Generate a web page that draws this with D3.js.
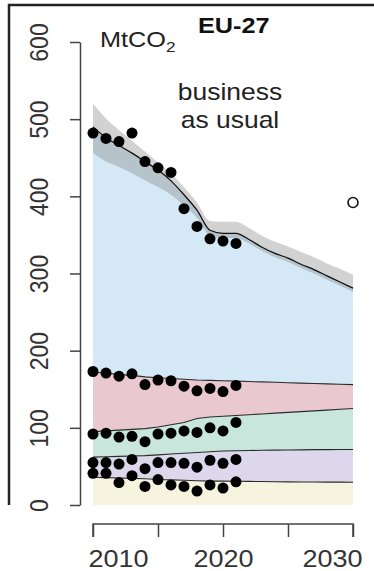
<!DOCTYPE html>
<html>
<head>
<meta charset="utf-8">
<script src="https://cdn.jsdelivr.net/npm/d3@7"></script>
<style>
  html, body { margin: 0; padding: 0; background: #fff; }
  svg { display: block; font-family: "Liberation Sans", Arial, sans-serif; }
</style>
</head>
<body>
<div id="chart"></div>
<script>
// projection years
const years = [2010, 2011, 2012, 2013, 2014, 2015, 2016, 2017, 2018, 2019, 2020,
  2021, 2022, 2023, 2024, 2025, 2026, 2027, 2028, 2029, 2030];

// business-as-usual projection by sector (MtCO2), stacked bottom to top
const sectorYellow = [36, 35.5, 35, 34.5, 34, 33, 32.5, 32, 31.5, 31, 31, 30.8, 30.6, 30.4, 30.2, 30, 29.9, 29.8, 29.7, 29.6, 29.5];
const sectorPurple = [26, 27, 28, 29, 30, 32, 33.5, 35, 36.5, 38, 39, 39.5, 40, 40.5, 40.9, 41.3, 41.6, 41.9, 42.1, 42.3, 42.5];
const sectorGreen = [33, 33.5, 34, 34.5, 35, 36, 38, 40, 44, 45, 45, 45.7, 46.4, 47.1, 47.9, 48.7, 49.5, 50.3, 51.2, 52.1, 53];
const sectorPink = [77, 75, 72, 70, 67, 64, 60, 56, 50, 47.5, 46, 44.5, 43, 41.5, 40, 38.5, 37, 35.5, 34, 32.5, 31];
const sectorBlue = [318, 305, 297, 288, 279, 269, 256, 239, 220, 194.5, 191, 191.5, 184, 174.5, 167, 161.5, 154, 147.5, 140, 132.5, 125];

// uncertainty band around the total
const bandUpper = [520, 501, 486, 472, 458, 444, 430, 412, 392, 368, 367, 367, 359, 349, 341, 335, 328, 321, 313, 306, 298];
const bandLower = [456, 445, 438, 430, 421, 412, 402, 388, 372, 349, 346, 346, 339, 329, 321, 315, 307, 300, 292, 284, 276];

// observed values (cumulative levels)
const obsYears = [2010, 2011, 2012, 2013, 2014, 2015, 2016, 2017, 2018, 2019, 2020, 2021];
const obsTotal = [482, 475, 471, 482, 445, 437, 431, 384, 361, 345, 342, 339];
const obsPink = [173, 171, 167, 170, 156, 162, 161, 154, 148, 151, 147, 155];
const obsGreen = [92, 93, 88, 89, 82, 92, 93, 96, 94, 100, 96, 107];
const obsPurple = [55, 55, 53, 59, 47, 55, 55, 54, 49, 58, 54, 59];
const obsYellow = [41, 41, 29, 38, 24, 33, 26, 24, 18, 26, 22, 30];

// 2030 target
const targetYear = 2030;
const targetValue = 392;

// axes
const yTicks = [0, 100, 200, 300, 400, 500, 600];
const xTicks = [2010, 2015, 2020, 2025, 2030];
const xTickLabels = ['2010', '', '2020', '', '2030'];

const sectorKeys = ['yellow', 'purple', 'green', 'pink', 'blue'];
const sectorColors = {
  yellow: '#f6f3de',
  purple: '#dcd7eb',
  green: '#c8e6db',
  pink: '#eac8cf',
  blue: '#d5e8f5'
};

const width = 374;
const height = 571;
const stretch = 1.15; // text in the reference is slightly wide

const x = d3.scaleLinear().domain([2010, 2030]).range([93, 353]);
const y = d3.scaleLinear().domain([0, 600]).range([505, 42]);

const svg = d3.select('#chart')
  .append('svg')
  .attr('width', width)
  .attr('height', height)
  .attr('viewBox', `0 0 ${width} ${height}`);

// stacked areas
const rows = years.map((yr, i) => ({
  year: yr,
  yellow: sectorYellow[i],
  purple: sectorPurple[i],
  green: sectorGreen[i],
  pink: sectorPink[i],
  blue: sectorBlue[i]
}));
const stacked = d3.stack().keys(sectorKeys)(rows);

const area = d3.area()
  .x(d => x(d.data.year))
  .y0(d => y(d[0]))
  .y1(d => y(d[1]));

svg.append('g')
  .selectAll('path')
  .data(stacked)
  .join('path')
  .attr('d', area)
  .attr('fill', d => sectorColors[d.key]);

// uncertainty band
const band = d3.area()
  .curve(d3.curveMonotoneX)
  .x((d, i) => x(years[i]))
  .y0((d, i) => y(bandLower[i]))
  .y1(d => y(d));

svg.append('path')
  .attr('d', band(bandUpper))
  .attr('fill', '#7f7f7f')
  .attr('fill-opacity', 0.35);

// boundary lines between sectors
const boundary = d3.line()
  .x(d => x(d.data.year))
  .y(d => y(d[1]));

svg.append('g')
  .selectAll('path')
  .data(stacked.slice(0, 4))
  .join('path')
  .attr('d', boundary)
  .attr('fill', 'none')
  .attr('stroke', '#2a2a2a')
  .attr('stroke-width', 1.1);

// total line
const total = d3.line()
  .curve(d3.curveMonotoneX)
  .x(d => x(d.data.year))
  .y(d => y(d[1]));

svg.append('path')
  .attr('d', total(stacked[4]))
  .attr('fill', 'none')
  .attr('stroke', '#111')
  .attr('stroke-width', 1.3);

// observed dots
const obsSeries = [obsTotal, obsPink, obsGreen, obsPurple, obsYellow];
const dots = svg.append('g');
obsSeries.forEach(series => {
  dots.selectAll(null)
    .data(series)
    .join('circle')
    .attr('cx', (d, i) => x(obsYears[i]))
    .attr('cy', d => y(d))
    .attr('r', 5.5)
    .attr('fill', '#000');
});

// 2030 target marker
svg.append('circle')
  .attr('cx', x(targetYear))
  .attr('cy', y(targetValue))
  .attr('r', 5)
  .attr('fill', 'none')
  .attr('stroke', '#111')
  .attr('stroke-width', 1.6);

// y axis
const yAxis = svg.append('g')
  .attr('transform', `translate(80,0)`)
  .call(d3.axisLeft(y).tickValues(yTicks).tickSize(10).tickSizeOuter(0));
yAxis.select('.domain').attr('stroke', '#444').attr('stroke-width', 1.5);
yAxis.selectAll('.tick line').attr('stroke', '#444').attr('stroke-width', 1.5);
yAxis.selectAll('.tick text')
  .attr('x', 0)
  .attr('dy', 0)
  .attr('text-anchor', 'middle')
  .attr('transform', `translate(-32,0) scale(${stretch},1) rotate(-90)`)
  .attr('font-size', 23)
  .attr('font-family', '"Liberation Sans", Arial, sans-serif')
  .attr('fill', '#333');

// x axis
const xAxis = svg.append('g')
  .attr('transform', `translate(0,524)`)
  .call(d3.axisBottom(x).tickValues(xTicks).tickSize(13).tickSizeOuter(0)
    .tickFormat((d, i) => xTickLabels[i]));
xAxis.select('.domain').attr('stroke', '#444').attr('stroke-width', 1.5)
  .attr('d', `M${x(2010)},13V0H${x(2030)}V13`);
xAxis.selectAll('.tick line').attr('stroke', '#444').attr('stroke-width', 1.5);
// outer labels sit inside the axis span, as in the reference
const lastTick = xTicks.length - 1;
xAxis.selectAll('.tick text')
  .attr('y', 0)
  .attr('dy', 0)
  .attr('text-anchor', (d, i) => i === 0 ? 'start' : i === lastTick ? 'end' : 'middle')
  .attr('transform', (d, i) => {
    const shift = i === 0 ? -5 : i === lastTick ? 9 : 0;
    return `translate(${shift},43) scale(${stretch},1)`;
  })
  .attr('font-size', 23.5)
  .attr('font-family', '"Liberation Sans", Arial, sans-serif')
  .attr('fill', '#333');

// labels
function label (txt, px, py, size, opts = {}) {
  return svg.append('text')
    .attr('transform', `translate(${px},${py}) scale(${stretch},1)`)
    .attr('font-size', size)
    .attr('font-weight', opts.bold ? 'bold' : 'normal')
    .attr('text-anchor', opts.anchor || 'start')
    .attr('fill', opts.fill || '#222')
    .text(txt);
}

const unit = label('MtCO', 100, 47, 22);
unit.append('tspan')
  .attr('font-size', 15)
  .attr('dy', 5)
  .text('2');

label('EU-27', 198, 33, 22, { bold: true, fill: '#111' });
label('business', 230, 100, 23, { anchor: 'middle' });
label('as usual', 230, 128, 23, { anchor: 'middle' });

// frame
svg.append('path')
  .attr('d', 'M9,505V5H374')
  .attr('fill', 'none')
  .attr('stroke', '#222')
  .attr('stroke-width', 2.5);
</script>
</body>
</html>
